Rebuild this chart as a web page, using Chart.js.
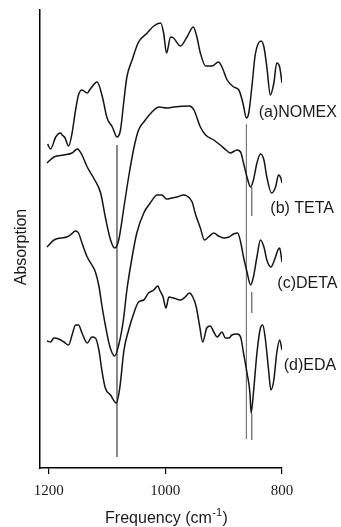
<!DOCTYPE html>
<html>
<head>
<meta charset="utf-8">
<script src="https://cdn.jsdelivr.net/npm/chart.js@4/dist/chart.umd.min.js"></script>
<style>
  html, body { margin: 0; padding: 0; background: #fff; }
  canvas { display: block; }
</style>
</head>
<body>
<canvas id="ir" width="341" height="527"></canvas>
<script>
// IR spectra of NOMEX and amine-treated samples (stacked, arbitrary absorption units)
const xTicks = [1200, 1000, 800];

const nomexX = [1202,1197,1188,1180,1177,1172,1166,1160,1154,1149,1143,1134,1130,1117,1108,1100,1091,1083,1077,1071,1066,1057,1046,1031,1020,1008,1003,998,991,986,974,963,952,946,940,931,920,909,903,894,883,874,867,861,857,851,846,836,831,826,820,814,809,804,800];
const nomexY = [3.24,3.19,3.31,3.35,3.33,3.30,3.22,3.35,3.58,3.73,3.78,3.75,3.78,3.86,3.71,3.50,3.41,3.31,3.38,3.68,3.91,4.08,4.26,4.35,4.42,4.45,4.35,4.15,4.31,4.30,4.22,4.31,4.41,4.31,4.15,4.02,4.02,4.06,4.01,3.88,3.81,3.78,3.65,3.50,3.55,3.85,4.13,4.27,4.21,4.01,3.73,3.85,4.05,4.01,3.85];

const tetaX = [1203,1191,1174,1160,1151,1143,1134,1123,1111,1103,1094,1087,1080,1071,1063,1054,1046,1037,1023,1011,997,986,959,951,940,931,917,906,894,889,877,871,866,860,854,849,843,837,831,826,818,811,806,802,800];
const tetaY = [3.05,3.11,3.13,3.15,3.19,3.13,3.01,2.90,2.75,2.51,2.28,2.20,2.28,2.61,2.91,3.20,3.38,3.46,3.56,3.61,3.60,3.61,3.62,3.58,3.41,3.33,3.28,3.23,3.17,3.15,3.18,3.16,3.05,2.91,2.81,2.88,3.05,3.14,3.08,2.91,2.75,2.81,2.93,2.90,2.85];

const detaX = [1203,1191,1180,1169,1163,1154,1149,1143,1134,1126,1120,1114,1109,1103,1095,1087,1080,1072,1066,1057,1049,1037,1026,1014,1006,998,989,980,969,963,954,949,940,933,926,917,909,900,891,883,876,871,866,860,854,849,843,837,831,826,819,813,807,804,800];
const detaY = [2.21,2.28,2.30,2.31,2.33,2.37,2.35,2.25,2.11,2.03,1.96,1.82,1.63,1.43,1.21,1.12,1.23,1.48,1.78,2.11,2.35,2.55,2.65,2.73,2.73,2.69,2.70,2.71,2.73,2.72,2.66,2.55,2.40,2.28,2.31,2.35,2.32,2.30,2.31,2.34,2.35,2.26,2.11,1.96,1.83,1.91,2.11,2.28,2.21,2.08,2.01,2.08,2.18,2.20,2.06];

const edaX = [1203,1197,1191,1183,1174,1166,1160,1154,1149,1143,1134,1126,1120,1114,1109,1103,1094,1084,1078,1071,1063,1054,1046,1037,1029,1020,1013,1009,1004,999,994,986,974,966,959,953,947,941,936,929,923,917,911,903,897,891,886,877,871,866,860,855,853,849,843,837,833,829,823,819,814,809,804,800];
const edaY = [1.27,1.26,1.30,1.29,1.26,1.23,1.33,1.43,1.43,1.35,1.25,1.31,1.30,1.18,0.98,0.80,0.73,0.65,0.81,1.18,1.38,1.55,1.66,1.68,1.75,1.78,1.82,1.77,1.71,1.60,1.71,1.70,1.68,1.71,1.75,1.71,1.61,1.41,1.26,1.40,1.42,1.36,1.31,1.36,1.30,1.30,1.33,1.34,1.31,1.15,0.95,0.75,0.55,0.75,1.15,1.40,1.43,1.31,0.98,0.78,0.88,1.15,1.28,1.18];

// Marker lines at the shifted bands (wavenumber, from, to)
const band1083 = [1083, 3.23, 0.11];
const band861 = [861, 3.44, 0.29];
const band852Segments = [[2.81, 2.52], [1.76, 1.55], [0.55, 0.28]];

// Curve labels: text, wavenumber, height
const curveNames = ['(a)NOMEX', '(b) TETA', '(c)DETA', '(d)EDA'];
const nameX = [840, 820, 808, 797];
const nameY = [3.55, 2.59, 1.84, 1.02];

const pairs = (xs, ys) => xs.map((x, i) => ({ x, y: ys[i] }));

const spectrum = (label, xs, ys) => ({
  label,
  data: pairs(xs, ys),
  borderColor: '#141414',
  borderWidth: 1.5,
  pointRadius: 0,
  cubicInterpolationMode: 'monotone',
  fill: false
});

const marker = (pts) => ({
  label: 'marker',
  data: pts,
  borderColor: '#7a7a7a',
  borderWidth: 1,
  pointRadius: 0,
  spanGaps: false,
  fill: false
});

const seg852 = [];
band852Segments.forEach(([a, b], i) => {
  if (i > 0) seg852.push({ x: 852, y: null });
  seg852.push({ x: 852, y: a }, { x: 852, y: b });
});

const textLayer = {
  id: 'textLayer',
  afterDraw(chart) {
    const { ctx, scales: { x, y } } = chart;
    ctx.save();
    ctx.fillStyle = '#1a1a1a';
    ctx.font = '16px "Liberation Sans", Arial, sans-serif';
    ctx.textBaseline = 'middle';
    ctx.textAlign = 'left';
    curveNames.forEach((t, i) => {
      ctx.fillText(t, x.getPixelForValue(nameX[i]), y.getPixelForValue(nameY[i]));
    });

    // x-axis title with superscript
    const main = 'Frequency (cm';
    const sup = '-1';
    const close = ')';
    ctx.font = '16px "Liberation Sans", Arial, sans-serif';
    const wMain = ctx.measureText(main).width;
    const wClose = ctx.measureText(close).width;
    ctx.font = '11px "Liberation Sans", Arial, sans-serif';
    const wSup = ctx.measureText(sup).width;
    const total = wMain + wSup + wClose;
    const cx = (x.left + x.right) / 2 + 5;
    let sx = cx - total / 2;
    const by = 523;
    ctx.textBaseline = 'alphabetic';
    ctx.font = '16px "Liberation Sans", Arial, sans-serif';
    ctx.fillText(main, sx, by);
    sx += wMain;
    ctx.font = '11px "Liberation Sans", Arial, sans-serif';
    ctx.fillText(sup, sx + 0.5, by - 7);
    sx += wSup + 1;
    ctx.font = '16px "Liberation Sans", Arial, sans-serif';
    ctx.fillText(close, sx, by);

    // y-axis title
    ctx.translate(22, 247);
    ctx.rotate(-Math.PI / 2);
    ctx.textAlign = 'center';
    ctx.textBaseline = 'middle';
    ctx.fillText('Absorption', 0, 0);
    ctx.restore();
  }
};

new Chart(document.getElementById('ir'), {
  type: 'line',
  data: {
    datasets: [
      spectrum('(a)NOMEX', nomexX, nomexY),
      spectrum('(b) TETA', tetaX, tetaY),
      spectrum('(c)DETA', detaX, detaY),
      spectrum('(d)EDA', edaX, edaY),
      marker([{ x: band1083[0], y: band1083[1] }, { x: band1083[0], y: band1083[2] }]),
      marker([{ x: band861[0], y: band861[1] }, { x: band861[0], y: band861[2] }]),
      marker(seg852)
    ]
  },
  options: {
    responsive: false,
    animation: false,
    devicePixelRatio: 1,
    layout: { padding: { top: 10, right: 59, left: 0, bottom: 0 } },
    plugins: { legend: { display: false }, tooltip: { enabled: false } },
    scales: {
      x: {
        type: 'linear',
        reverse: true,
        min: 800,
        max: 1215,
        afterBuildTicks: (s) => { s.ticks = xTicks.map(v => ({ value: v })); },
        afterFit: (s) => { s.height = 59; },
        ticks: {
          autoSkip: false,
          maxRotation: 0,
          padding: 8,
          color: '#1a1a1a',
          callback: (v) => String(v),
          font: { family: '"Liberation Serif", "Times New Roman", serif', size: 15 }
        },
        grid: { display: true, drawOnChartArea: false, tickLength: 6, color: '#000', lineWidth: 1.2 },
        border: { display: true, color: '#000', width: 1.5 }
      },
      y: {
        min: 0,
        max: 4.58,
        afterFit: (s) => { s.width = 40; },
        ticks: { display: false },
        grid: { display: false },
        border: { display: true, color: '#000', width: 1.5 }
      }
    }
  },
  plugins: [textLayer]
});
</script>
</body>
</html>
